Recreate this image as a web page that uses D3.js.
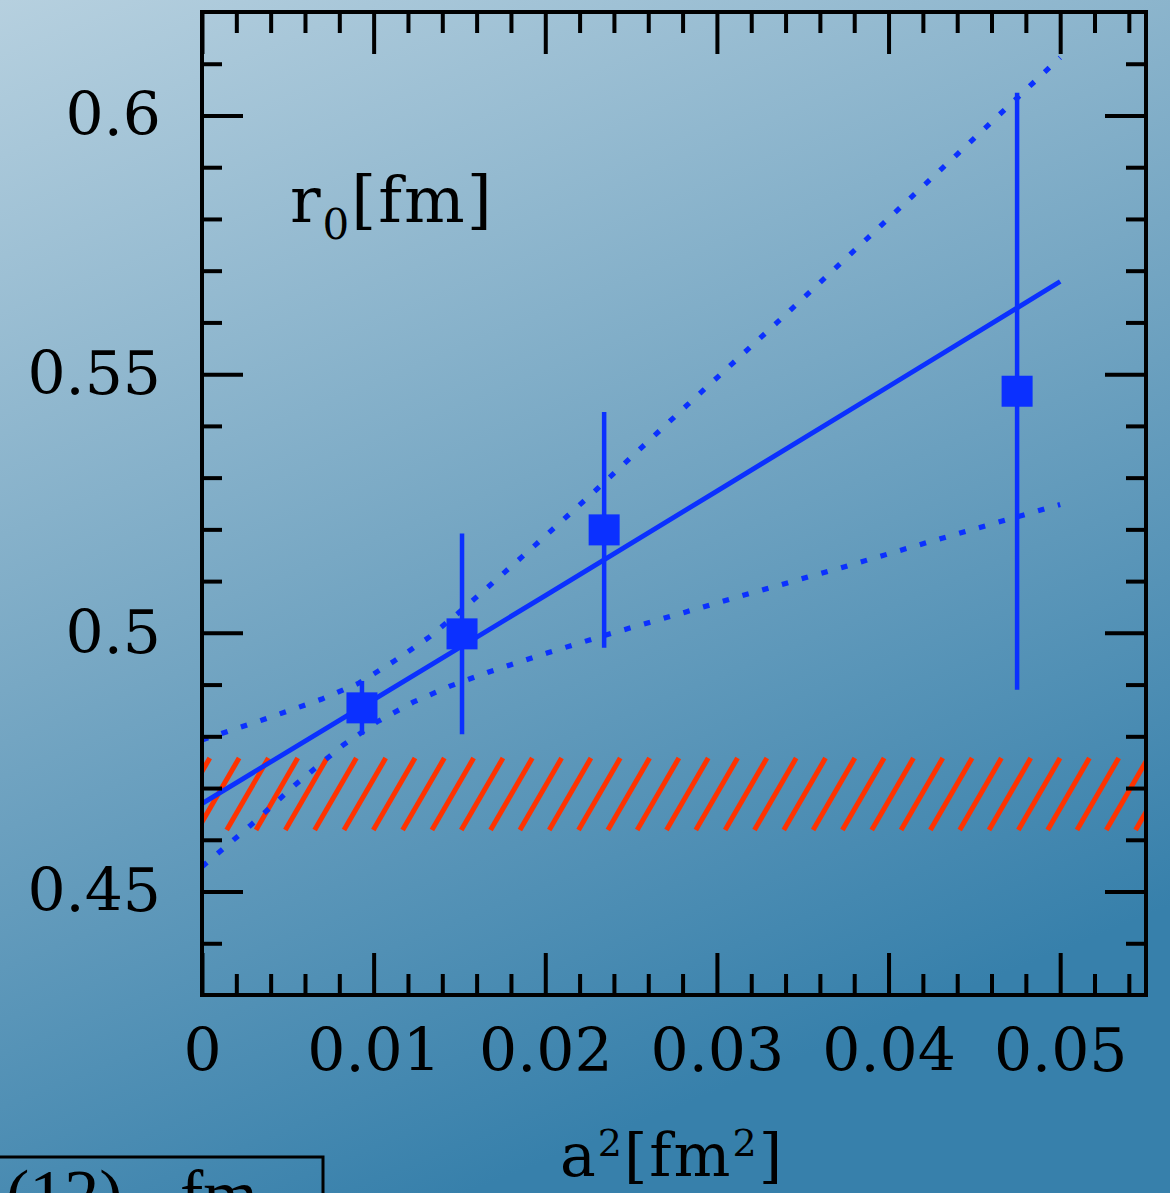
<!DOCTYPE html>
<html>
<head>
<meta charset="utf-8">
<script src="https://cdn.jsdelivr.net/npm/d3@7"></script>
<style>
  html, body { margin: 0; padding: 0; overflow: hidden; }
  svg { display: block; }
</style>
</head>
<body>
<svg id="chart" width="1170" height="1193"></svg>
<script>
// ---- data -------------------------------------------------------------
const xMajor = [0, 0.01, 0.02, 0.03, 0.04, 0.05];
const xTickLabels = ["0", "0.01", "0.02", "0.03", "0.04", "0.05"];
const yMajor = [0.45, 0.5, 0.55, 0.6];
const yTickLabels = ["0.45", "0.5", "0.55", "0.6"];

// lattice points: a^2 [fm^2], r0 [fm], error
const a2 = [0.00932, 0.01515, 0.02343, 0.04749];
const r0 = [0.4855, 0.4998, 0.5199, 0.5467];
const r0Err = [0.0052, 0.0194, 0.0228, 0.0577];

// continuum fit (central curve)
const fitX = [0, 0.01, 0.02, 0.03, 0.04, 0.05];
const fitY = [0.4670, 0.4871, 0.5072, 0.5274, 0.5476, 0.5679];

// upper edge of the fit error band
const upperX = [0, 0.00355, 0.00699, 0.00915, 0.01113, 0.01317, 0.01492, 0.01678,
                0.01946, 0.02302, 0.02826, 0.03351, 0.03875, 0.04400, 0.05];
const upperY = [0.4793, 0.4832, 0.4872, 0.4903, 0.4944, 0.4990, 0.5038, 0.5092,
                0.5171, 0.5278, 0.5440, 0.5600, 0.5762, 0.5925, 0.6112];

// lower edge of the fit error band
const lowerX = [0, 0.0028, 0.00542, 0.00822, 0.0102, 0.0123, 0.01445, 0.01667,
                0.0201, 0.02354, 0.02815, 0.03159, 0.03735, 0.04312, 0.05];
const lowerY = [0.4548, 0.4627, 0.4706, 0.4783, 0.4828, 0.4866, 0.4897, 0.4924,
                0.4961, 0.4996, 0.5040, 0.5073, 0.5127, 0.5183, 0.5248];

// reference value band (hatched)
const bandLo = 0.4619, bandHi = 0.4758;

// ---- layout -----------------------------------------------------------
const W = 1170, H = 1193;
const plot = { left: 202, right: 1146, top: 12, bottom: 995 };
const blue = "#0b30ff", red = "#ff3300";
const tickFont = "'DejaVu Serif', serif";

const svg = d3.select("#chart");

// background wash
const defs = svg.append("defs");
const grad = defs.append("linearGradient").attr("id", "bg")
  .attr("x1", 0).attr("y1", 0).attr("x2", 0.4).attr("y2", 1);
grad.append("stop").attr("offset", 0).attr("stop-color", "#b6d0df");
grad.append("stop").attr("offset", 0.5).attr("stop-color", "#78a8c4");
grad.append("stop").attr("offset", 1).attr("stop-color", "#3780ab");
svg.append("rect").attr("width", W).attr("height", H).attr("fill", "url(#bg)");

defs.append("clipPath").attr("id", "plotClip")
  .append("rect")
  .attr("x", plot.left).attr("y", plot.top)
  .attr("width", plot.right - plot.left).attr("height", plot.bottom - plot.top);

const x = d3.scaleLinear().domain([0, 0.055]).range([plot.left, plot.right]);
const y = d3.scaleLinear().domain([0.43, 0.62]).range([plot.bottom, plot.top]);

// ---- hatched band -----------------------------------------------------
const hatch = svg.append("g").attr("clip-path", "url(#plotClip)");
const yTop = y(bandHi), yBot = y(bandLo);
const slant = (yBot - yTop) * 0.58;   // horizontal run of each stroke
const step = 29.32;
const startX = 226.7 - Math.ceil((226.7 - plot.left + slant) / step) * step;
const hatchStarts = d3.range(startX, plot.right + step, step);
hatch.selectAll("line").data(hatchStarts).join("line")
  .attr("x1", d => d).attr("y1", yBot)
  .attr("x2", d => d + slant).attr("y2", yTop)
  .attr("stroke", red).attr("stroke-width", 5);

// ---- fit curves -------------------------------------------------------
const line = d3.line().x(d => x(d[0])).y(d => y(d[1]));
[d3.zip(upperX, upperY), d3.zip(lowerX, lowerY)].forEach(edge => {
  svg.append("path").datum(edge).attr("d", line)
    .attr("fill", "none").attr("stroke", blue).attr("stroke-width", 5.2)
    .attr("stroke-dasharray", "6.5 14");
});
svg.append("path").datum(d3.zip(fitX, fitY)).attr("d", line)
  .attr("fill", "none").attr("stroke", blue).attr("stroke-width", 4.8);

// ---- data points ------------------------------------------------------
const pts = a2.map((v, i) => ({ x: v, y: r0[i], e: r0Err[i] }));
svg.append("g").selectAll("line").data(pts).join("line")
  .attr("x1", d => x(d.x)).attr("x2", d => x(d.x))
  .attr("y1", d => y(d.y - d.e)).attr("y2", d => y(d.y + d.e))
  .attr("stroke", blue).attr("stroke-width", 4.5);
const sq = 31;
svg.append("g").selectAll("rect").data(pts).join("rect")
  .attr("x", d => x(d.x) - sq / 2).attr("y", d => y(d.y) - sq / 2)
  .attr("width", sq).attr("height", sq).attr("fill", blue);

// ---- axes -------------------------------------------------------------
const xMinor = d3.range(1, 28).map(i => +(i * 0.002).toFixed(3))
  .filter(v => Math.abs(v * 100 - Math.round(v * 100)) > 1e-6);
const yMinor = d3.range(44, 62).map(i => i / 100)
  .filter(v => Math.abs(v * 20 - Math.round(v * 20)) > 1e-6);

function styleAxis(g) {
  g.select(".domain").remove();
  g.selectAll(".tick line").attr("stroke", "#000").attr("stroke-width", 4);
  g.selectAll(".tick text").attr("fill", "#000")
    .style("font-family", tickFont).style("font-size", "60px");
}

// bottom (labelled)
svg.append("g").attr("transform", `translate(0,${plot.bottom})`)
  .call(d3.axisBottom(x).tickValues(xMajor).tickSize(-42).tickPadding(33)
    .tickFormat((d, i) => xTickLabels[i]))
  .call(styleAxis);
svg.append("g").attr("transform", `translate(0,${plot.bottom})`)
  .call(d3.axisBottom(x).tickValues(xMinor).tickSize(-21).tickFormat(""))
  .call(styleAxis);
// top
svg.append("g").attr("transform", `translate(0,${plot.top})`)
  .call(d3.axisTop(x).tickValues(xMajor).tickSize(-42).tickFormat(""))
  .call(styleAxis);
svg.append("g").attr("transform", `translate(0,${plot.top})`)
  .call(d3.axisTop(x).tickValues(xMinor).tickSize(-21).tickFormat(""))
  .call(styleAxis);
// left (labelled)
svg.append("g").attr("transform", `translate(${plot.left},0)`)
  .call(d3.axisLeft(y).tickValues(yMajor).tickSize(-41).tickPadding(41)
    .tickFormat((d, i) => yTickLabels[i]))
  .call(styleAxis);
svg.append("g").attr("transform", `translate(${plot.left},0)`)
  .call(d3.axisLeft(y).tickValues(yMinor).tickSize(-20).tickFormat(""))
  .call(styleAxis);
// right
svg.append("g").attr("transform", `translate(${plot.right},0)`)
  .call(d3.axisRight(y).tickValues(yMajor).tickSize(-41).tickFormat(""))
  .call(styleAxis);
svg.append("g").attr("transform", `translate(${plot.right},0)`)
  .call(d3.axisRight(y).tickValues(yMinor).tickSize(-20).tickFormat(""))
  .call(styleAxis);

// frame
svg.append("rect")
  .attr("x", plot.left).attr("y", plot.top)
  .attr("width", plot.right - plot.left).attr("height", plot.bottom - plot.top)
  .attr("fill", "none").attr("stroke", "#000").attr("stroke-width", 4);

// ---- labels -----------------------------------------------------------
const yLab = svg.append("text").attr("x", 290).attr("y", 222)
  .style("font-family", tickFont).style("font-size", "64px")
  .style("letter-spacing", "2px").attr("fill", "#000");
yLab.append("tspan").text("r");
yLab.append("tspan").attr("dy", 17).style("font-size", "42px").text("0");
yLab.append("tspan").attr("dy", -17).text("[fm]");

const xLab = svg.append("text").attr("x", 672).attr("y", 1176)
  .attr("text-anchor", "middle")
  .style("font-family", tickFont).style("font-size", "60px")
  .style("letter-spacing", "2px").attr("fill", "#000");
xLab.append("tspan").text("a");
xLab.append("tspan").attr("dy", -20).style("font-size", "38px").text("2");
xLab.append("tspan").attr("dy", 20).text("[fm");
xLab.append("tspan").attr("dy", -20).style("font-size", "38px").text("2");
xLab.append("tspan").attr("dy", 20).text("]");

// result box in the lower left corner
svg.append("rect").attr("x", -10).attr("y", 1157).attr("width", 333).attr("height", 100)
  .attr("fill", "none").attr("stroke", "#000").attr("stroke-width", 3);
const res = svg.append("text").attr("x", 6).attr("y", 1218)
  .style("font-family", "'Liberation Serif', serif").style("font-size", "70px")
  .attr("fill", "#000");
res.append("tspan").text("(12)");
res.append("tspan").attr("x", 180).text("fm");
</script>
</body>
</html>
